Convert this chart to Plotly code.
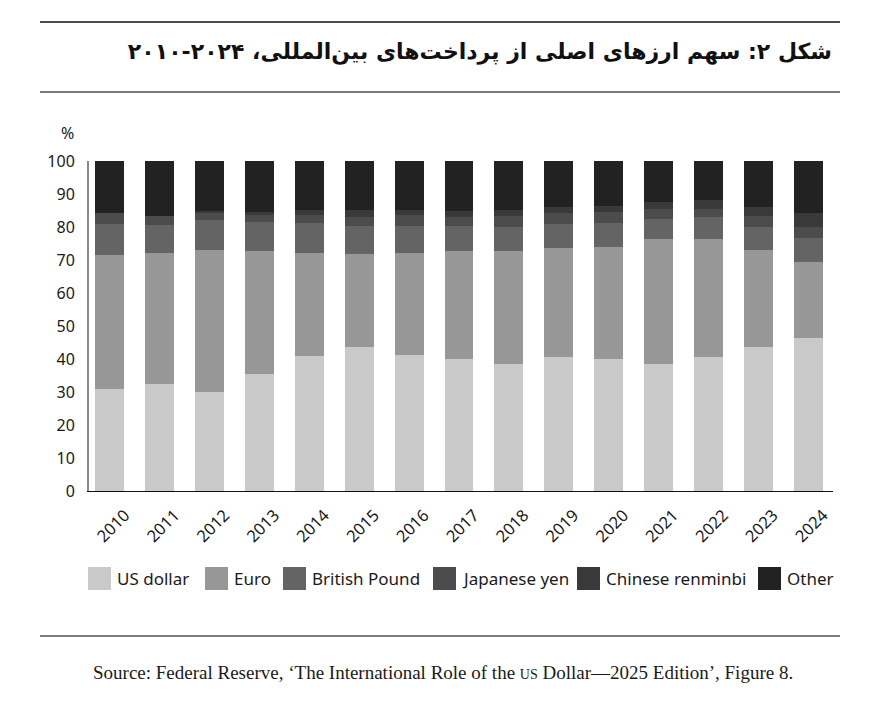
import plotly.graph_objects as go

years = [str(y) for y in range(2010, 2025)]

# shares in percent
us_dollar = [30.9, 32.4, 30.0, 35.5, 40.9, 43.6, 41.2, 40.0, 38.5, 40.6, 40.0, 38.5, 40.6, 43.6, 46.4]
euro = [40.7, 39.8, 43.1, 37.3, 31.3, 28.3, 31.0, 32.8, 34.3, 33.1, 34.0, 38.0, 35.9, 29.5, 23.1]
british_pound = [9.3, 8.4, 9.0, 8.7, 9.1, 8.4, 8.1, 7.5, 7.3, 7.3, 7.3, 6.0, 6.4, 6.9, 7.1]
japanese_yen = [3.4, 2.7, 2.0, 2.1, 2.3, 2.7, 3.4, 2.7, 3.2, 3.2, 3.2, 3.0, 2.6, 3.3, 3.5]
chinese_renminbi = [0.0, 0.0, 0.7, 0.9, 1.6, 2.2, 1.5, 1.8, 1.9, 1.9, 1.9, 2.1, 2.7, 2.8, 4.1]
other = [15.7, 16.7, 15.2, 15.5, 14.8, 14.8, 14.8, 15.2, 14.8, 13.9, 13.6, 12.4, 11.8, 13.9, 15.8]

series = [
    ("US dollar", us_dollar, "#c9c9c9"),
    ("Euro", euro, "#979797"),
    ("British Pound", british_pound, "#646464"),
    ("Japanese yen", japanese_yen, "#4c4c4c"),
    ("Chinese renminbi", chinese_renminbi, "#393939"),
    ("Other", other, "#222222"),
]

# page body has an 8px margin, so the figure sits at (8, 8) in the window
OFF = 8
W, H = 870 - 2 * OFF, 727 - 2 * OFF
L, R, T, B = 89 - OFF, 833 - OFF, 161 - OFF, 491 - OFF  # plot area


def px(x):
    return (x - OFF - L) / (R - L)


def py(y):
    return (B - (y - OFF)) / (B - T)


sans = "Noto Sans"

fig = go.Figure()
for name, vals, col in series:
    fig.add_trace(go.Bar(x=years, y=vals, name=name, marker_color=col,
                         marker_line_width=0, showlegend=False))

fig.update_layout(
    width=W, height=H,
    margin=dict(l=L, r=W - R, t=T, b=H - B, pad=0),
    barmode="stack", bargap=0.42,
    plot_bgcolor="white", paper_bgcolor="white",
    font=dict(family=sans, size=16, color="#1a1a1a"),
    title=dict(text="<b>شکل ۲: سهم ارزهای اصلی از پرداخت‌های بین‌المللی، ۲۰۲۴-۲۰۱۰</b>",
               x=(832 - OFF) / W, xanchor="right", xref="container",
               y=1 - (51 - OFF) / H, yanchor="middle", yref="container",
               font=dict(family="DejaVu Sans", size=22, color="#111111")),
)

fig.update_xaxes(type="category", range=[-0.42, 14.5], tickangle=-45,
                 showline=True, linecolor="#111111", linewidth=1.2,
                 ticks="", showgrid=False, tickfont=dict(size=16.5),
                 ticklabelshift=15, ticklabelstandoff=7)
fig.update_yaxes(range=[0, 100], tickvals=list(range(0, 101, 10)),
                 showline=True, linecolor="#8a8a8a", linewidth=2,
                 ticks="", showgrid=False, zeroline=False,
                 ticklabelstandoff=9, tickfont=dict(size=16))

fig.add_annotation(text="%", xref="paper", yref="paper", x=px(67), y=py(133),
                   showarrow=False, font=dict(size=16), xanchor="center", yanchor="middle")

# legend drawn by hand: square swatch + label
legend_x = [88, 205, 283, 433, 577, 758]
for (name, vals, col), lx in zip(series, legend_x):
    fig.add_shape(type="rect", xref="paper", yref="paper",
                  x0=px(lx), x1=px(lx + 23), y0=py(567), y1=py(590),
                  fillcolor=col, line_width=0)
    fig.add_annotation(text=name, xref="paper", yref="paper", x=px(lx + 27), y=py(578),
                       xanchor="left", yanchor="middle", showarrow=False,
                       font=dict(size=17))

# rules around the figure
for yy, col, wd in [(22, "#111111", 1.5), (92, "#7a7a7a", 2), (636, "#555555", 1.5)]:
    fig.add_shape(type="line", xref="paper", yref="paper",
                  x0=px(40), x1=px(840), y0=py(yy), y1=py(yy),
                  line=dict(color=col, width=wd))

fig.add_annotation(
    text="Source: Federal Reserve, ‘The International Role of the "
         "<span style='font-size:14px'>US</span> Dollar—2025 Edition’, Figure 8.",
    xref="paper", yref="paper", x=px(443), y=py(672), showarrow=False,
    xanchor="center", yanchor="middle",
    font=dict(family="Liberation Serif", size=19, color="#1a1a1a"))

fig.write_html("out.html")
